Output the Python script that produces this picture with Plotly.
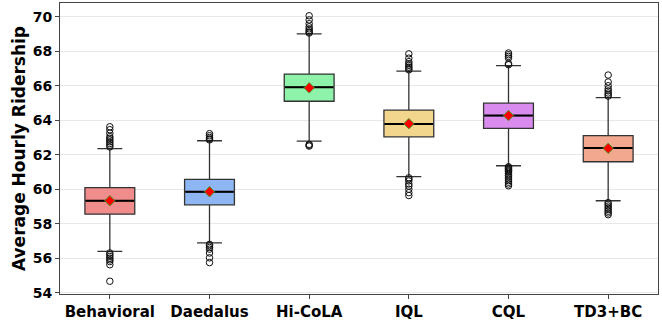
import plotly.graph_objects as go

categories = ["Behavioral", "Daedalus", "Hi-CoLA", "IQL", "CQL", "TD3+BC"]
q1 = [58.55, 59.09, 65.10, 63.04, 63.53, 61.59]
median = [59.33, 59.85, 65.92, 63.78, 64.27, 62.39]
q3 = [60.09, 60.57, 66.68, 64.59, 64.99, 63.11]
lower_whisker = [56.39, 56.88, 62.79, 60.73, 61.36, 59.33]
upper_whisker = [62.35, 62.81, 69.01, 66.85, 67.17, 65.31]
means = [59.33, 59.85, 65.88, 63.80, 64.27, 62.37]
outliers = {
    "Behavioral": [62.45, 62.55, 62.65, 62.75, 62.85, 62.95, 63.05, 63.25, 63.45, 63.62,
                   56.3, 56.2, 56.1, 56.0, 55.9, 55.8, 55.62, 54.66],
    "Daedalus": [62.86, 62.92, 63.0, 63.1, 63.22,
                 56.8, 56.72, 56.62, 56.52, 56.3, 56.02, 55.74],
    "Hi-CoLA": [69.06, 69.12, 69.2, 69.3, 69.42, 69.6, 69.82, 70.06,
                62.6, 62.55, 62.5],
    "IQL": [66.92, 67.0, 67.08, 67.18, 67.28, 67.4, 67.6, 67.85,
            60.66, 60.58, 60.48, 60.3, 60.18, 60.0, 59.8, 59.63],
    "CQL": [67.22, 67.28, 67.6, 67.7, 67.8, 67.9,
            61.3, 61.25, 61.2, 61.15, 61.1, 61.05, 61.0, 60.9, 60.8, 60.7,
            60.6, 60.5, 60.4, 60.3, 60.2],
    "TD3+BC": [65.4, 65.48, 65.58, 65.7, 65.82, 66.0, 66.22, 66.62,
               59.22, 59.12, 59.02, 58.92, 58.82, 58.72, 58.62, 58.52],
}
colors = ["#F08C8C", "#8DB6F2", "#8FF2AA", "#F2D68E", "#D98CEE", "#F2A88E"]

fig = go.Figure()
for i, cat in enumerate(categories):
    fig.add_trace(go.Box(
        x=[cat], q1=[q1[i]], median=[median[i]], q3=[q3[i]],
        lowerfence=[lower_whisker[i]], upperfence=[upper_whisker[i]],
        fillcolor=colors[i], line=dict(color="#333333", width=1.3),
        whiskerwidth=0.5, boxpoints=False, showlegend=False, width=0.5,
    ))
    ys = outliers[cat]
    fig.add_trace(go.Scatter(
        x=[cat] * len(ys), y=ys, mode="markers", showlegend=False,
        marker=dict(symbol="circle-open", size=6.5, color="#111111",
                    line=dict(width=1, color="#111111")),
    ))
# darker, thicker median lines
fig.add_trace(go.Scatter(
    x=categories, y=median, mode="markers", showlegend=False,
    marker=dict(symbol="line-ew-open", size=34.5, color="black",
                line=dict(width=2, color="black")),
))
fig.add_trace(go.Scatter(
    x=categories, y=means, mode="markers", showlegend=False,
    marker=dict(symbol="diamond", size=8, color="red",
                line=dict(width=1, color="#4a9a2a")),
))

fig.update_layout(
    width=662, height=323,
    margin=dict(l=60, r=4, t=2, b=25),
    paper_bgcolor="white", plot_bgcolor="white",
    font=dict(family="DejaVu Sans", size=14, color="black"),
)
fig.update_xaxes(
    type="category", range=[-0.5, 5.5],
    showline=True, mirror=True, linecolor="#444444", linewidth=1,
    ticks="outside", ticklen=4, tickcolor="#444444",
    tickfont=dict(family="DejaVu Sans", size=15, weight="bold"),
    showgrid=False,
)
fig.update_yaxes(
    range=[53.92, 70.8], tickvals=[54, 56, 58, 60, 62, 64, 66, 68, 70],
    showline=True, mirror=True, linecolor="#444444", linewidth=1,
    ticks="outside", ticklen=4, tickcolor="#444444",
    tickfont=dict(family="DejaVu Sans", size=14, weight="bold"),
    showgrid=True, gridcolor="#E8E8E8", gridwidth=1, zeroline=False,
    title=dict(text="Average Hourly Ridership", standoff=2,
               font=dict(family="DejaVu Sans", size=17, weight="bold")),
)
fig.write_html("out.html", config={"displayModeBar": False},
               post_script="document.body.style.margin='0';")
